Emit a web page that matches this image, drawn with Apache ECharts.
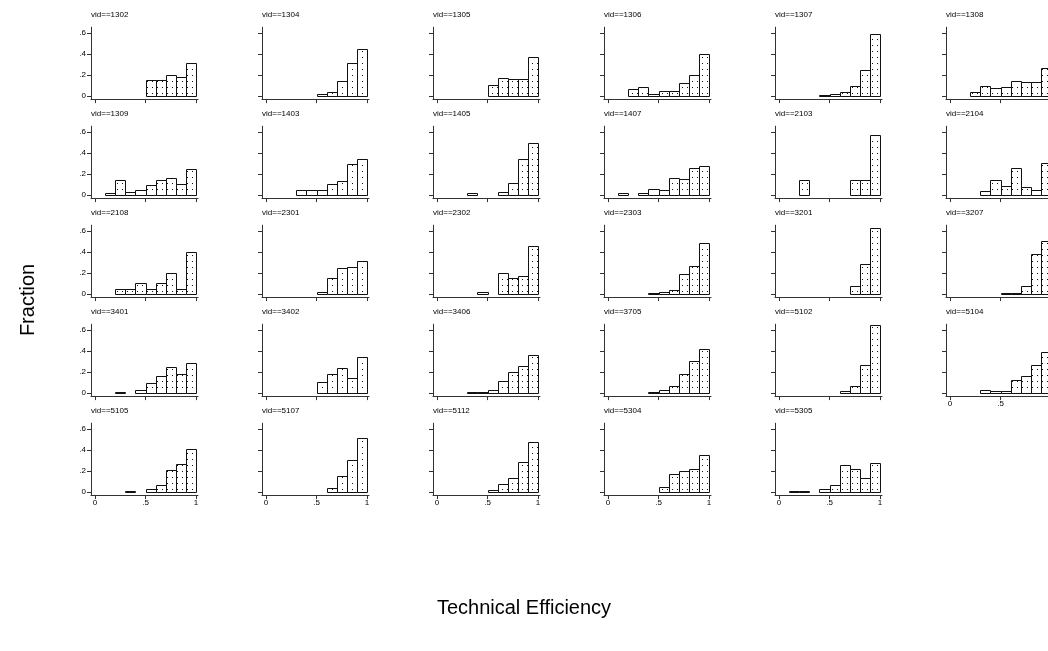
<!DOCTYPE html>
<html>
<head>
<meta charset="utf-8">
<title>Technical Efficiency by vid</title>
<script src="https://cdn.jsdelivr.net/npm/echarts@6/dist/echarts.min.js"></script>
<style>
  html, body { margin: 0; padding: 0; background: #fff; }
  #chart { width: 1048px; height: 651px; }
</style>
</head>
<body>
<div id="chart"></div>
<script>
// panel ids, row by row (6 per row)
const vids = [
  '1302', '1304', '1305', '1306', '1307', '1308',
  '1309', '1403', '1405', '1407', '2103', '2104',
  '2108', '2301', '2302', '2303', '3201', '3207',
  '3401', '3402', '3406', '3705', '5102', '5104',
  '5105', '5107', '5112', '5304', '5305'
]

// left edge of each histogram bin
const binStarts = [0, 0.1, 0.2, 0.3, 0.4, 0.5, 0.6, 0.7, 0.8, 0.9]

// fraction per bin, one row per vid
const fractions = [
  [0, 0, 0, 0, 0, 0.15, 0.15, 0.2, 0.185, 0.31],
  [0, 0, 0, 0, 0, 0.02, 0.04, 0.145, 0.315, 0.445],
  [0, 0, 0, 0, 0, 0.1, 0.175, 0.165, 0.16, 0.37],
  [0, 0, 0.063, 0.089, 0.016, 0.05, 0.05, 0.12, 0.197, 0.397],
  [0, 0, 0, 0, 0.01, 0.02, 0.035, 0.092, 0.248, 0.59],
  [0, 0, 0.035, 0.098, 0.073, 0.089, 0.146, 0.137, 0.137, 0.27],
  [0, 0.022, 0.143, 0.03, 0.048, 0.092, 0.143, 0.165, 0.108, 0.248],
  [0, 0, 0, 0.045, 0.045, 0.045, 0.1, 0.13, 0.298, 0.34],
  [0, 0, 0, 0.016, 0, 0, 0.032, 0.115, 0.34, 0.495],
  [0, 0.016, 0, 0.02, 0.055, 0.05, 0.165, 0.155, 0.254, 0.28],
  [0, 0, 0.143, 0, 0, 0, 0, 0.143, 0.143, 0.571],
  [0, 0, 0, 0.04, 0.14, 0.09, 0.26, 0.08, 0.05, 0.3],
  [0, 0, 0.05, 0.05, 0.1, 0.05, 0.1, 0.2, 0.05, 0.4],
  [0, 0, 0, 0, 0, 0.016, 0.15, 0.25, 0.26, 0.31],
  [0, 0, 0, 0, 0.02, 0, 0.2, 0.15, 0.17, 0.46],
  [0, 0, 0, 0, 0.01, 0.02, 0.04, 0.19, 0.27, 0.49],
  [0, 0, 0, 0, 0, 0, 0, 0.08, 0.29, 0.63],
  [0, 0, 0, 0, 0, 0.005, 0.01, 0.08, 0.38, 0.5],
  [0, 0, 0.013, 0, 0.03, 0.095, 0.165, 0.245, 0.18, 0.285],
  [0, 0, 0, 0, 0, 0.1, 0.18, 0.24, 0.14, 0.34],
  [0, 0, 0, 0.013, 0.013, 0.026, 0.113, 0.2, 0.26, 0.36],
  [0, 0, 0, 0, 0.013, 0.026, 0.07, 0.18, 0.3, 0.42],
  [0, 0, 0, 0, 0, 0, 0.02, 0.07, 0.265, 0.645],
  [0, 0, 0, 0.025, 0.015, 0.015, 0.12, 0.16, 0.27, 0.39],
  [0, 0, 0, 0.01, 0, 0.03, 0.07, 0.21, 0.27, 0.41],
  [0, 0, 0, 0, 0, 0, 0.04, 0.15, 0.3, 0.51],
  [0, 0, 0, 0, 0, 0.02, 0.08, 0.13, 0.29, 0.48],
  [0, 0, 0, 0, 0, 0.05, 0.17, 0.2, 0.22, 0.35],
  [0, 0.01, 0.01, 0, 0.03, 0.07, 0.26, 0.22, 0.13, 0.28]
]

const xTicks = [0, 0.5, 1]
const yTicks = [0, 0.2, 0.4, 0.6]
const binWidth = 0.1

const COLS = 6
const FONT = 'Liberation Sans, Arial, sans-serif'

// small dotted fill like the scanned histogram bars
function makeDots() {
  const c = document.createElement('canvas')
  c.width = 5
  c.height = 6
  const ctx = c.getContext('2d')
  ctx.fillStyle = '#fff'
  ctx.fillRect(0, 0, 5, 6)
  ctx.fillStyle = '#111'
  ctx.fillRect(2, 3, 1, 1)
  return c
}
const dotPattern = { image: makeDots(), repeat: 'repeat' }

function tickText(v) {
  return String(v).replace(/^0\./, '.')
}

// lowest panel in each column gets the x labels
function isBottom(i) {
  return i + COLS >= vids.length
}

const grids = []
const xAxes = []
const yAxes = []
const series = []
const graphics = []

vids.forEach((vid, i) => {
  const r = Math.floor(i / COLS)
  const c = i % COLS
  const y0 = 96 + 99 * r
  grids.push({
    left: 91 + 171 * c, top: y0 - 68.8, width: 107, height: 71.9,
    outerBoundsMode: 'none', containLabel: false
  })

  const axisLine = { show: true, onZero: false, lineStyle: { color: '#333', width: 1 } }

  xAxes.push({
    type: 'value', gridIndex: i, min: -0.04, max: 1.02,
    axisLine,
    axisTick: { show: true, length: 4, customValues: xTicks, lineStyle: { color: '#333' } },
    axisLabel: {
      show: isBottom(i), customValues: xTicks, formatter: tickText,
      fontSize: 8, margin: 4, color: '#000', fontFamily: FONT
    },
    splitLine: { show: false }
  })
  yAxes.push({
    type: 'value', gridIndex: i, min: -0.03, max: 0.655,
    axisLine,
    axisTick: { show: true, length: 4, customValues: yTicks, lineStyle: { color: '#333' } },
    axisLabel: {
      show: c === 0, customValues: yTicks, formatter: tickText,
      fontSize: 8, margin: 5, color: '#000', fontFamily: FONT
    },
    splitLine: { show: false }
  })

  const data = []
  binStarts.forEach((b, k) => {
    if (fractions[i][k] > 0) data.push([b, fractions[i][k]])
  })

  series.push({
    type: 'custom',
    xAxisIndex: i,
    yAxisIndex: i,
    data,
    silent: true,
    renderItem(params, api) {
      const x = api.value(0)
      const y = api.value(1)
      const p0 = api.coord([x, 0])
      const p1 = api.coord([x + binWidth, y])
      const left = Math.round(p0[0]) + 0.5
      const right = Math.round(p1[0]) + 0.5
      const top = Math.round(p1[1]) + 0.5
      const base = Math.round(p0[1]) + 0.5
      return {
        type: 'rect',
        shape: { x: left, y: top, width: right - left, height: base - top },
        style: { fill: dotPattern, stroke: '#111', lineWidth: 1 }
      }
    }
  })

  graphics.push({
    type: 'text',
    left: 91 + 171 * c,
    top: y0 - 85,
    style: { text: 'vid==' + vid, font: '8px ' + FONT, fill: '#000' }
  })
})

graphics.push({
  type: 'text',
  x: 28, y: 300,
  rotation: Math.PI / 2,
  style: { text: 'Fraction', font: '20px ' + FONT, fill: '#000', align: 'center', verticalAlign: 'middle' }
})
graphics.push({
  type: 'text',
  x: 524, y: 608,
  style: { text: 'Technical Efficiency', font: '20px ' + FONT, fill: '#000', align: 'center', verticalAlign: 'middle' }
})

const chart = echarts.init(document.getElementById('chart'))
chart.setOption({
  animation: false,
  backgroundColor: '#fff',
  grid: grids,
  xAxis: xAxes,
  yAxis: yAxes,
  series,
  graphic: graphics
})
window.addEventListener('resize', () => chart.resize())
</script>
</body>
</html>
